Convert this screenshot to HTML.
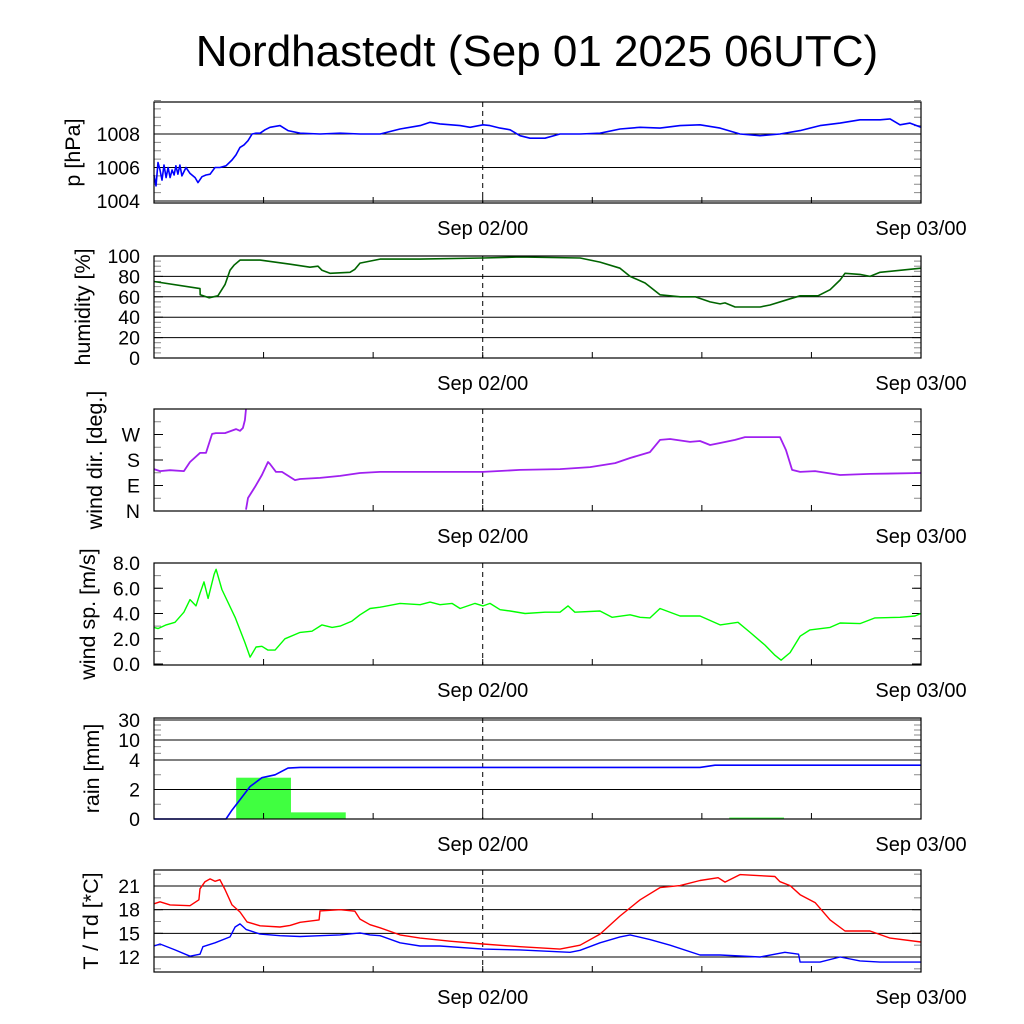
<!DOCTYPE html>
<html><head><meta charset="utf-8"><style>
body{margin:0;background:#fff}
svg{display:block;font-family:"Liberation Sans",sans-serif}
</style></head><body>
<svg id="chart" width="1024" height="1024" viewBox="0 0 1024 1024" xmlns="http://www.w3.org/2000/svg">
<text x="537" y="66" font-size="44" text-anchor="middle">Nordhastedt (Sep 01 2025 06UTC)</text>
<g id="g"></g>
</svg>
<script>
const NS='http://www.w3.org/2000/svg';
const g=document.getElementById('g');
// time in hours since Sep 01 06UTC
const pHours=[0,.11,.22,.33,.44,.55,.66,.77,.88,.99,1.1,1.2,1.31,1.42,1.53,1.75,1.97,2.25,2.41,2.63,2.85,3.07,3.34,3.61,3.94,4.27,4.49,4.71,4.93,5.15,5.37,5.59,5.81,6.08,6.35,6.9,7.34,8.0,9.09,10.19,11.28,12.38,13.47,14.57,15.12,15.66,16.76,17.31,18.02,18.4,18.95,19.5,20.04,20.59,21.41,22.23,23.33,24.42,25.52,26.62,27.71,28.81,29.9,31.0,32.09,33.19,34.28,35.38,36.47,37.57,38.66,39.76,40.31,40.85,41.4,42];
const pValues=[1005.55,1004.9,1006.3,1005.85,1005.25,1006.15,1005.4,1006.0,1005.4,1005.85,1005.55,1006.1,1005.6,1006.15,1005.5,1006.0,1005.65,1005.4,1005.1,1005.45,1005.55,1005.6,1006.0,1006.0,1006.1,1006.45,1006.75,1007.2,1007.35,1007.6,1008.0,1008.05,1008.05,1008.25,1008.4,1008.5,1008.2,1008.05,1008.0,1008.05,1008.0,1008.0,1008.3,1008.5,1008.7,1008.6,1008.5,1008.4,1008.55,1008.5,1008.35,1008.25,1007.9,1007.75,1007.75,1008.0,1008.0,1008.05,1008.3,1008.4,1008.35,1008.5,1008.55,1008.35,1008.0,1007.9,1008.0,1008.2,1008.5,1008.65,1008.85,1008.85,1008.9,1008.55,1008.65,1008.4];
const hHours=[0,2.52,2.53,3.01,3.5,3.89,4.16,4.38,4.71,5.81,7.45,8.54,8.98,9.2,9.64,10.73,11.0,11.28,11.83,12.38,14.57,18.02,20.04,23.33,24.42,25.52,26.07,26.89,27.71,28.81,29.63,30.45,31.0,31.27,31.82,32.36,33.19,33.73,34.83,35.38,36.36,37.02,37.57,37.84,38.66,39.21,39.76,40.85,42];
const hValues=[75,68,62,59,61,72,86,91,96,96,92,89,90,86,83,84,87,93,95,97,97,98,99,98,94,88,80,73.5,62,60,60,55,53,54,50,50,50,52,58,61,61,67,76.5,83,82,80,84,86,88];
const dHours1=[0,.33,.88,1.64,1.97,2.52,2.85,3.18,3.39,3.89,4.49,4.71,4.87,4.98,5.04];
const dValues1=[148,141,144,141,173,205,205,272,275,275,289,283,293,321,360];
const dHours2=[5.04,5.15,5.53,5.91,6.24,6.35,6.68,7.01,7.72,8.0,9.09,10.19,11.28,12.38,14.57,18.02,20.04,22.23,23.88,25.25,26.07,27.16,27.71,28.26,29.35,29.9,30.45,31.0,31.82,32.36,34.28,34.61,34.94,35.38,36.2,37.57,39.21,42];
const dValues2=[5,46,85,127,173,166,138,138,109,113,117,124,134,138,138,138,145,148,155,169,187,208,251,254,244,247,233,240,251,261,261,215,145,138,141,127,131,134];
const sHours=[0,.22,.66,1.15,1.64,1.97,2.3,2.52,2.74,2.96,3.29,3.4,3.72,4.44,4.98,5.26,5.59,5.91,6.24,6.63,7.17,8.0,8.65,9.2,9.75,10.19,10.84,11.28,11.83,12.38,13.47,14.57,15.12,15.66,16.32,16.76,17.58,18.02,18.4,18.95,19.5,20.32,21.41,22.23,22.67,23.05,24.42,25.08,26.07,26.62,27.16,27.71,28.81,29.9,31.0,31.98,32.64,33.46,34.0,34.34,34.83,35.38,35.92,37.02,37.57,38.66,39.48,40.85,41.67,42];
const sValues=[2.9,2.8,3.1,3.3,4.1,5.1,4.6,5.6,6.5,5.2,7.1,7.5,5.9,3.7,1.7,0.55,1.35,1.4,1.1,1.1,2.0,2.5,2.6,3.1,2.9,3.0,3.4,3.9,4.4,4.5,4.8,4.7,4.9,4.7,4.8,4.4,4.8,4.6,4.8,4.3,4.2,4.0,4.1,4.1,4.6,4.1,4.2,3.7,3.9,3.7,3.65,4.4,3.8,3.8,3.1,3.3,2.5,1.5,0.7,0.3,0.9,2.2,2.7,2.9,3.25,3.2,3.65,3.7,3.8,4.0];
const rainBinStart=[4.5,7.5,31.5];
const rainBinEnd=[7.5,10.5,34.5];
const rainBinValues=[2.8,0.45,0.1];
const rainCumHours=[0,3.94,4.27,4.71,5.26,5.91,6.63,7.34,8.0,29.9,30.72,42];
const rainCumValues=[0,0,0.6,1.3,2.2,2.8,3.0,3.45,3.5,3.5,3.65,3.65];
const tHours=[0,.33,.88,1.97,2.46,2.52,2.79,3.07,3.34,3.61,3.89,4.27,4.71,5.09,5.81,6.9,7.45,8.0,9.04,9.09,10.19,11.0,11.28,11.83,12.38,13.47,14.57,16.21,18.02,20.04,22.23,23.33,24.42,25.52,26.62,27.71,28.81,29.9,30.89,31.27,32.09,33.19,34.0,34.28,34.83,35.38,36.2,37.02,37.84,39.21,40.31,42];
const tValues=[18.75,19.0,18.6,18.5,19.25,20.65,21.55,21.9,21.6,21.8,20.55,18.6,17.7,16.45,15.95,15.8,16.0,16.4,16.7,17.85,18.0,17.8,16.8,16.1,15.7,14.8,14.4,14.0,13.65,13.3,13.0,13.5,14.9,17.2,19.25,20.8,21.05,21.7,22.05,21.5,22.45,22.3,22.2,21.55,21.05,19.9,18.9,16.7,15.3,15.3,14.4,13.9];
const tdHours=[0,.33,1.15,1.97,2.52,2.68,3.34,4.16,4.44,4.71,5.04,5.81,6.9,8.0,9.09,10.19,11.28,11.83,12.38,13.47,14.57,15.66,18.02,20.04,22.78,23.33,24.42,25.52,26.07,27.16,28.26,29.9,31.0,33.19,34.55,35.3,35.38,36.47,37.57,38.66,39.76,42];
const tdValues=[13.4,13.65,12.9,12.1,12.35,13.3,13.8,14.55,15.8,16.2,15.5,14.9,14.7,14.6,14.7,14.8,15.05,14.8,14.7,13.8,13.4,13.4,13.0,12.9,12.6,12.85,13.8,14.55,14.8,14.2,13.5,12.25,12.25,12.0,12.6,12.35,11.35,11.35,12.0,11.5,11.35,11.35];

const X0=154,X1=921,H0=0,H1=42;
const xs=h=>X0+(h-H0)/(H1-H0)*(X1-X0);
function el(tag,attrs,parent){const e=document.createElementNS(NS,tag);for(const k in attrs)e.setAttribute(k,attrs[k]);(parent||g).appendChild(e);return e;}
function lin(v0,v1,y0,y1){return v=>y0+(v-v0)/(v1-v0)*(y1-y0);}
function line(hs,vs,ys,color,w,name){
  const n=Math.min(hs.length,vs.length);let d='';
  for(let i=0;i<n;i++)d+=(i?'L':'M')+xs(hs[i]).toFixed(1)+','+ys(vs[i]).toFixed(1);
  const p=el('path',{d:d,fill:'none',stroke:color,'stroke-width':w,'stroke-linejoin':'round'});
  
  
}
function panel(name,top,bot,ys,grid,labels,labelVals,minor,title,tx){
  const pg=el('g',{});
  
  
  for(const v of grid){const y=ys(v);const l=el('line',{x1:X0,x2:X1,y1:y,y2:y,stroke:'#000','stroke-width':1},pg);}
  for(const v of minor){const y=ys(v);el('line',{x1:X0,x2:X0+7,y1:y,y2:y,stroke:'#888','stroke-width':1},pg);el('line',{x1:X1-7,x2:X1,y1:y,y2:y,stroke:'#888','stroke-width':1},pg);}
  for(let i=0;i<labels.length;i++){const y=ys(labelVals[i]);
    el('line',{x1:X0,x2:X0+9,y1:y,y2:y,stroke:'#000'},pg);el('line',{x1:X1-9,x2:X1,y1:y,y2:y,stroke:'#000'},pg);
    const t=el('text',{x:X0-14,y:y+7,'font-size':19.5,'text-anchor':'end'},pg);t.textContent=labels[i];
    }
  for(let h=6;h<42;h+=6){const x=xs(h);el('line',{x1:x,x2:x,y1:bot,y2:bot-6,stroke:'#000'},pg);}
  const dx=xs(18);
  const dl=el('line',{x1:dx,x2:dx,y1:top,y2:bot,stroke:'#000','stroke-dasharray':'5,4'},pg);
  
  const yt=el('text',{x:0,y:0,'font-size':21.5,'text-anchor':'middle',transform:`translate(${tx},${(top+bot)/2}) rotate(-90)`},pg);
  yt.textContent=title;
  const xl1=el('text',{x:dx,y:bot+32,'font-size':20,'text-anchor':'middle'},pg);xl1.textContent='Sep 02/00';
  
  const xl2=el('text',{x:X1,y:bot+32,'font-size':20,'text-anchor':'middle'},pg);xl2.textContent='Sep 03/00';
  
  return pg;
}
function frame(top,bot,name){const r=el('rect',{x:X0,y:top,width:X1-X0,height:bot-top,fill:'none',stroke:'#000','stroke-width':1.2});}
const rng=(a,b,s)=>{const r=[];for(let v=a;v<=b+1e-9;v+=s)r.push(v);return r;};

// pressure
let ys=lin(1004,1008,201,134);
panel('pressure',102,203,ys,[1004,1006,1008],['1004','1006','1008'],[1004,1006,1008],rng(1004,1010,0.5),'p [hPa]',80);
line(pHours,pValues,ys,'#0000ff',1.6,'pressure-line');frame(102,203,'pressure');
// humidity
ys=lin(0,100,358,256);
panel('humidity',256,358,ys,[20,40,60,80],['0','20','40','60','80','100'],[0,20,40,60,80,100],rng(0,100,5),'humidity [%]',90);
line(hHours,hValues,ys,'#006400',1.6,'humidity-line');frame(256,358,'humidity');
// wind direction
ys=lin(0,360,511,409);
panel('wind-dir',409,511,ys,[],['N','E','S','W'],[0,90,180,270],rng(0,360,45),'wind dir. [deg.]',102);
line(dHours1,dValues1,ys,'#a020f0',1.8,'wind-dir-line');line(dHours2,dValues2,ys,'#a020f0',1.8,'wind-dir-line');frame(409,511,'wind-dir');
// wind speed
ys=lin(0,8,664,563);
panel('wind-speed',563,665,ys,[],['0.0','2.0','4.0','6.0','8.0'],[0,2,4,6,8],rng(0,8,1),'wind sp. [m/s]',95);
line(sHours,sValues,ys,'#00ff00',1.4,'wind-speed-line');frame(563,665,'wind-speed');
// rain
const rainY=v=>v<=4?819-v*14.75:(v<=10?760-(v-4)/6*20:740-(v-10)/20*20);
for(let i=0;i<rainBinValues.length;i++){const x=xs(rainBinStart[i]),w=xs(rainBinEnd[i])-x,y=rainY(rainBinValues[i]);
  const b=el('rect',{x:x,y:y,width:w,height:819-y,fill:'#40ff40'});
  }
panel('rain',718,819,rainY,[2,4,10,30],['0','2','4','10','30'],[0,2,4,10,30],[1,3,6,8,15,20,25],'rain [mm]',99);
line(rainCumHours,rainCumValues,rainY,'#0000ff',1.6,'rain-cumulative-line');frame(718,819,'rain');
// temperature
ys=lin(12,21,957,886);
panel('temperature',870,972,ys,[12,15,18,21],['12','15','18','21'],[12,15,18,21],rng(10.5,22.5,1.5),'T / Td [*C]',98);
line(tHours,tValues,ys,'#ff0000',1.4,'temperature-line');line(tdHours,tdValues,ys,'#0000ff',1.4,'dewpoint-line');frame(870,972,'temperature');
</script>
</body></html>
